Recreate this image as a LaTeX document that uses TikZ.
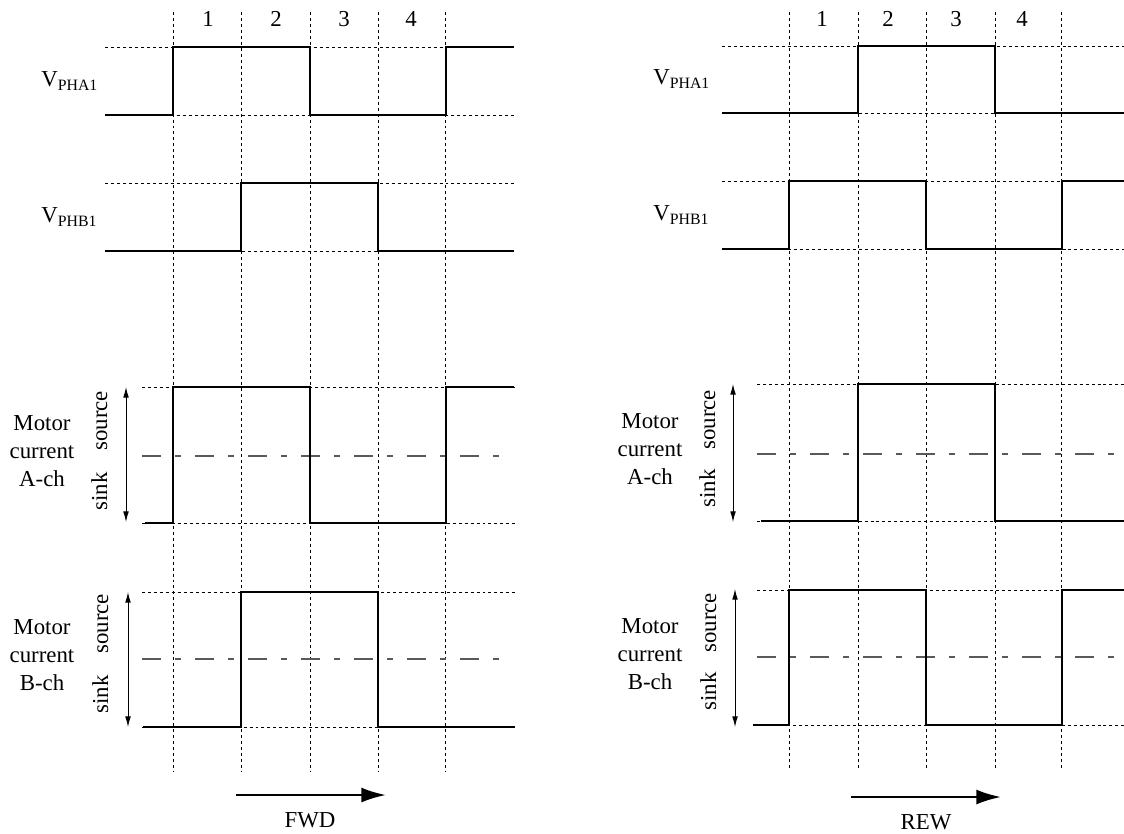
\documentclass[tikz,border=0pt]{standalone}
\usepackage{fontspec}
\setmainfont{Liberation Serif}
\usetikzlibrary{arrows.meta}

\newcommand{\vsig}[1]{V\raisebox{-2.4pt}{\fontsize{9}{10}\selectfont #1}}

\begin{document}
\begin{tikzpicture}[x=0.02cm, y=-0.02cm, font=\fontsize{13}{16}\selectfont,
  wavefm/.style={line width=0.9pt},
  gridline/.style={line width=0.4pt, dash pattern=on 1.7pt off 1.7pt},
  zeroline/.style={line width=0.6pt, black!65, dash pattern=on 10.8pt off 8pt on 3.4pt off 8pt},
  spanarrow/.style={line width=0.5pt, {Latex[length=6pt,width=3.2pt]}-{Latex[length=6pt,width=3.2pt]}},
  dirarrow/.style={line width=1.3pt, -{Latex[length=14pt,width=8.5pt]}},
  siglabel/.style={anchor=base west, inner sep=0},
  vertlabel/.style={rotate=90, inner sep=0}]
\useasboundingbox (0,0) rectangle (1124,833);

% FWD
\foreach \x in {173,241,310,378,445} \draw[gridline] (\x,12) -- (\x,772);
\foreach \y in {47,115,183,251} \draw[gridline] (105,\y) -- (515,\y);
\foreach \y in {387,523,592,727} \draw[gridline] (142,\y) -- (515,\y);
\foreach \y in {456,659} \draw[zeroline] (142,\y) -- (509,\y);
\foreach \n/\x in {1/208,2/276,3/344,4/411} \node (f\n) at (\x,19) {\n};

\node[siglabel] (fa) at (41,86.7) {\vsig{PHA1}};
\node[siglabel] (fb) at (41,222.7) {\vsig{PHB1}};
\node[align=center] (fma) at (42,451) {Motor\\current\\A-ch};
\node[align=center] (fmb) at (42,655) {Motor\\current\\B-ch};
\node[vertlabel, anchor=base west] (fsrca) at (107,451) {source};
\node[vertlabel, anchor=base east] (fsnka) at (107,472) {sink};
\node[vertlabel, anchor=base west] (fsrcb) at (108,654) {source};
\node[vertlabel, anchor=base east] (fsnkb) at (108,675) {sink};

\draw[wavefm] (105,115) -- (173,115) -- (173,47) -- (310,47) -- (310,115) -- (446,115) -- (446,47) -- (514,47);
\draw[wavefm] (105,251) -- (241,251) -- (241,183) -- (378,183) -- (378,251) -- (514,251);
\draw[wavefm] (145,523) -- (173,523) -- (173,387) -- (310,387) -- (310,523) -- (446,523) -- (446,387) -- (514,387);
\draw[wavefm] (143,727) -- (241,727) -- (241,592) -- (378,592) -- (378,727) -- (515,727);

\coordinate (fatop) at (126,387);
\coordinate (fabot) at (126,522);
\coordinate (fbtop) at (128,592);
\coordinate (fbbot) at (128,727);
\draw[spanarrow] (fatop) -- (fabot);
\draw[spanarrow] (fbtop) -- (fbbot);

\coordinate (fwds) at (236,795);
\coordinate (fwde) at (386,795);
\draw[dirarrow] (fwds) -- (fwde);
\node (fwd) at (310,820) {FWD};

% REW
\foreach \x in {789,858,926,995,1061} \draw[gridline] (\x,12) -- (\x,769);
\foreach \y in {46,113,181,249} \draw[gridline] (722,\y) -- (1124,\y);
\foreach \y in {384,521,590,725} \draw[gridline] (757,\y) -- (1124,\y);
\foreach \y in {454,657} \draw[zeroline] (757,\y) -- (1124,\y);
\foreach \n/\x in {1/822,2/888,3/956,4/1022} \node (r\n) at (\x,19) {\n};

\node[siglabel] (ra) at (653,84) {\vsig{PHA1}};
\node[siglabel] (rb) at (653,220) {\vsig{PHB1}};
\node[align=center] (rma) at (650,449) {Motor\\current\\A-ch};
\node[align=center] (rmb) at (650,654) {Motor\\current\\B-ch};
\node[vertlabel, anchor=base west] (rsrca) at (715,450) {source};
\node[vertlabel, anchor=base east] (rsnka) at (715,469) {sink};
\node[vertlabel, anchor=base west] (rsrcb) at (716,653) {source};
\node[vertlabel, anchor=base east] (rsnkb) at (716,672) {sink};

\draw[wavefm] (722,113) -- (858,113) -- (858,46) -- (995,46) -- (995,113) -- (1124,113);
\draw[wavefm] (722,249) -- (789,249) -- (789,181) -- (926,181) -- (926,249) -- (1062,249) -- (1062,181) -- (1124,181);
\draw[wavefm] (761,521) -- (858,521) -- (858,384) -- (995,384) -- (995,521) -- (1124,521);
\draw[wavefm] (753,725) -- (789,725) -- (789,590) -- (926,590) -- (926,725) -- (1062,725) -- (1062,590) -- (1124,590);

\coordinate (ratop) at (733,384);
\coordinate (rabot) at (733,522);
\coordinate (rbtop) at (735,589);
\coordinate (rbbot) at (735,727);
\draw[spanarrow] (ratop) -- (rabot);
\draw[spanarrow] (rbtop) -- (rbbot);

\coordinate (rews) at (851,797);
\coordinate (rewe) at (1001,797);
\draw[dirarrow] (rews) -- (rewe);
\node (rew) at (926,822) {REW};
\end{tikzpicture}
\end{document}
